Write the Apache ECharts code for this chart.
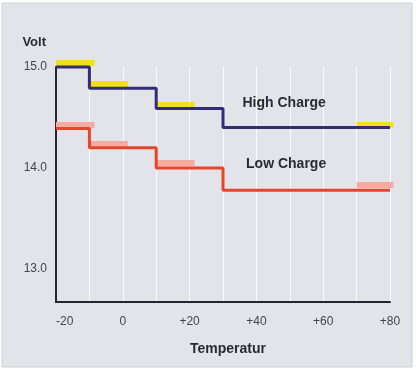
<!DOCTYPE html>
<html>
<head>
<meta charset="utf-8">
<script src="https://cdn.jsdelivr.net/npm/echarts@6/dist/echarts.min.js"></script>
<style>
  html, body { margin: 0; padding: 0; background: #ffffff; }
  #chart { width: 416px; height: 372px; }
</style>
</head>
<body>
<div id="chart"></div>
<script>
// ---- data ----
const stepTemps = [-20, -10, 10, 30, 80];
const highCharge = [15.0, 14.79, 14.59, 14.40, 14.40];
const lowCharge = [14.39, 14.20, 14.00, 13.78, 13.78];

const tolStart = [-20, -10, 10, 70];
const tolEnd = [-8.5, 1.5, 21.5, 81];
const highTol = [15.04, 14.83, 14.63, 14.43];
const lowTol = [14.43, 14.24, 14.05, 13.83];

const xTickLabels = [-20, 0, 20, 40, 60, 80];
const yTickLabels = [13, 14, 15];

const seriesNames = ['High Charge', 'Low Charge'];
const labelAnchors = [[48.3, 14.64], [48.9, 14.04]];

// ---- build ----
const font = 'Arial, "Liberation Sans", Helvetica, sans-serif';
const pairs = (xs, ys) => xs.map((x, i) => [x, ys[i]]);
const segs = (vals) => tolStart.map((s, i) => ({ coords: [[s, vals[i]], [tolEnd[i], vals[i]]] }));

const chart = echarts.init(document.getElementById('chart'), null, { renderer: 'canvas' });
chart.setOption({
  animation: false,
  backgroundColor: 'transparent',
  graphic: [{
    type: 'rect', z: -10, silent: true,
    shape: { x: 2, y: 3, width: 410, height: 364 },
    style: { fill: '#e3e4ea', stroke: '#cfd0d6', lineWidth: 1 }
  }],
  grid: { left: 56, right: 26, top: 67, bottom: 70 },
  xAxis: {
    type: 'value', min: -20, max: 80, interval: 10,
    name: 'Temperatur', nameLocation: 'middle', nameGap: 40,
    nameTextStyle: { fontFamily: font, fontSize: 14, fontWeight: 'bold', color: '#2a2a33', padding: [0, 0, 0, 10] },
    axisLine: { onZero: false, lineStyle: { color: '#25252f', width: 2 } },
    axisTick: { show: false },
    axisLabel: {
      customValues: xTickLabels, margin: 14, alignMinLabel: 'left',
      fontFamily: font, fontSize: 12, color: '#44444c',
      formatter: v => (v > 0 ? '+' + v : String(v))
    },
    splitLine: { show: true, lineStyle: { color: '#ffffff', width: 1, opacity: 0.85 } }
  },
  yAxis: {
    type: 'value', min: 12.673, max: 15,
    name: 'Volt', nameLocation: 'end', nameGap: 18,
    nameTextStyle: { fontFamily: font, fontSize: 13, fontWeight: 'bold', color: '#2a2a33', align: 'right', padding: [0, 10, 0, 0] },
    axisLine: { show: true, onZero: false, lineStyle: { color: '#25252f', width: 2 } },
    axisTick: { show: false },
    axisLabel: {
      customValues: yTickLabels, margin: 9,
      fontFamily: font, fontSize: 12, color: '#44444c',
      formatter: v => v.toFixed(1)
    },
    splitLine: { show: false }
  },
  series: [
    {
      type: 'lines', coordinateSystem: 'cartesian2d', z: 2, clip: false,
      lineStyle: { color: '#f2e01c', width: 6, opacity: 1, cap: 'butt' },
      data: segs(highTol)
    },
    {
      type: 'lines', coordinateSystem: 'cartesian2d', z: 2, clip: false,
      lineStyle: { color: '#f7aaa0', width: 6, opacity: 1, cap: 'butt' },
      data: segs(lowTol)
    },
    {
      name: seriesNames[0], type: 'line', step: 'end', z: 3, clip: false,
      showSymbol: false, symbol: 'none',
      lineStyle: { color: '#352c78', width: 3 },
      data: pairs(stepTemps, highCharge),
      markPoint: {
        symbol: 'circle', symbolSize: 0, silent: true,
        label: { show: true, position: 'inside', formatter: seriesNames[0], fontFamily: font, fontSize: 14, fontWeight: 'bold', color: '#2a2a35' },
        data: [{ coord: labelAnchors[0] }]
      }
    },
    {
      name: seriesNames[1], type: 'line', step: 'end', z: 3, clip: false,
      showSymbol: false, symbol: 'none',
      lineStyle: { color: '#e6452c', width: 3 },
      data: pairs(stepTemps, lowCharge),
      markPoint: {
        symbol: 'circle', symbolSize: 0, silent: true,
        label: { show: true, position: 'inside', formatter: seriesNames[1], fontFamily: font, fontSize: 14, fontWeight: 'bold', color: '#2a2a35' },
        data: [{ coord: labelAnchors[1] }]
      }
    }
  ]
});
</script>
</body>
</html>
